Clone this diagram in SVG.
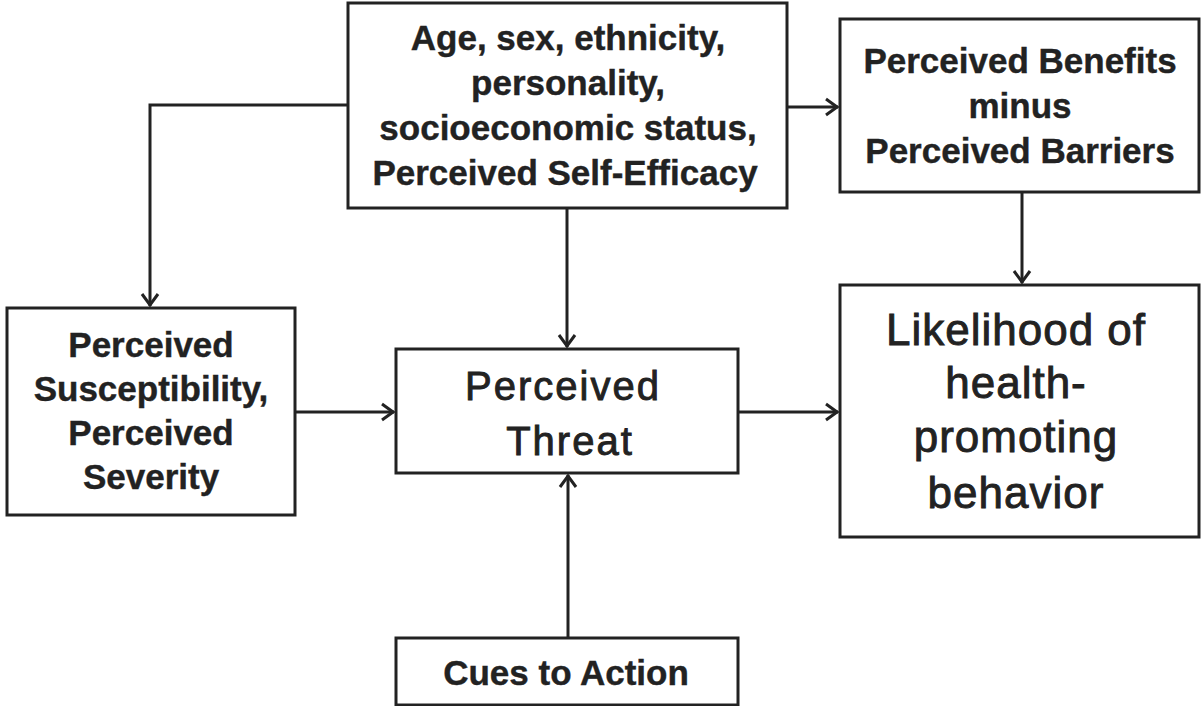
<svg xmlns="http://www.w3.org/2000/svg" width="1201" height="706" viewBox="0 0 1201 706">
<defs>
<style>
.box{fill:#fff;stroke:#222;stroke-width:3}
.b{font-family:"Liberation Sans",Arial,sans-serif;font-weight:bold;font-size:35px;fill:#222;stroke:#222;stroke-width:0.4;text-anchor:middle}
.r{font-family:"Liberation Sans",Arial,sans-serif;font-size:40px;fill:#222;stroke:#222;stroke-width:0.9;text-anchor:middle;letter-spacing:2px}
.r2{font-family:"Liberation Sans",Arial,sans-serif;font-size:44px;fill:#222;stroke:#222;stroke-width:0.9;text-anchor:middle;letter-spacing:1px}
.c{fill:none;stroke:#222;stroke-width:3}
</style>
<marker id="ah" markerUnits="userSpaceOnUse" markerWidth="16" markerHeight="20" viewBox="0 0 16 20" refX="15" refY="10" orient="auto">
<path d="M3,2 L14,10 L3,18" fill="none" stroke="#222" stroke-width="3"/>
</marker>
</defs>
<rect width="1201" height="706" fill="#fff"/>
<g id="connectors">
<path class="c" d="M348,105 H150 V306" marker-end="url(#ah)"/>
<path class="c" d="M787,107 H838" marker-end="url(#ah)"/>
<path class="c" d="M567,208 V347" marker-end="url(#ah)"/>
<path class="c" d="M1022,192 V283" marker-end="url(#ah)"/>
<path class="c" d="M295,412 H394" marker-end="url(#ah)"/>
<path class="c" d="M738,412 H838" marker-end="url(#ah)"/>
<path class="c" d="M568,638 V475" marker-end="url(#ah)"/>
</g>
<g id="demographics">
<rect class="box" x="348" y="3" width="439" height="205"/>
<text class="b" x="568" y="50">Age, sex, ethnicity,</text>
<text class="b" x="568" y="95">personality,</text>
<text class="b" x="568" y="140">socioeconomic status,</text>
<text class="b" x="565" y="185">Perceived Self-Efficacy</text>
</g>
<g id="benefits">
<rect class="box" x="840" y="19" width="359" height="173"/>
<text class="b" x="1020" y="73">Perceived Benefits</text>
<text class="b" x="1020" y="118">minus</text>
<text class="b" x="1020" y="163">Perceived Barriers</text>
</g>
<g id="susceptibility">
<rect class="box" x="7" y="308" width="288" height="207"/>
<text class="b" x="151" y="357">Perceived</text>
<text class="b" x="151" y="401">Susceptibility,</text>
<text class="b" x="151" y="445">Perceived</text>
<text class="b" x="151" y="489">Severity</text>
</g>
<g id="threat">
<rect class="box" x="396" y="349" width="342" height="124"/>
<text class="r" x="563" y="400">Perceived</text>
<text class="r" x="570" y="455">Threat</text>
</g>
<g id="likelihood">
<rect class="box" x="840" y="285" width="359" height="252"/>
<text class="r2" x="1016" y="345">Likelihood of</text>
<text class="r2" x="1016" y="398">health-</text>
<text class="r2" x="1016" y="452">promoting</text>
<text class="r2" x="1016" y="508">behavior</text>
</g>
<g id="cues">
<rect class="box" x="396" y="638" width="342" height="67"/>
<text class="b" x="566" y="685">Cues to Action</text>
</g>
</svg>
